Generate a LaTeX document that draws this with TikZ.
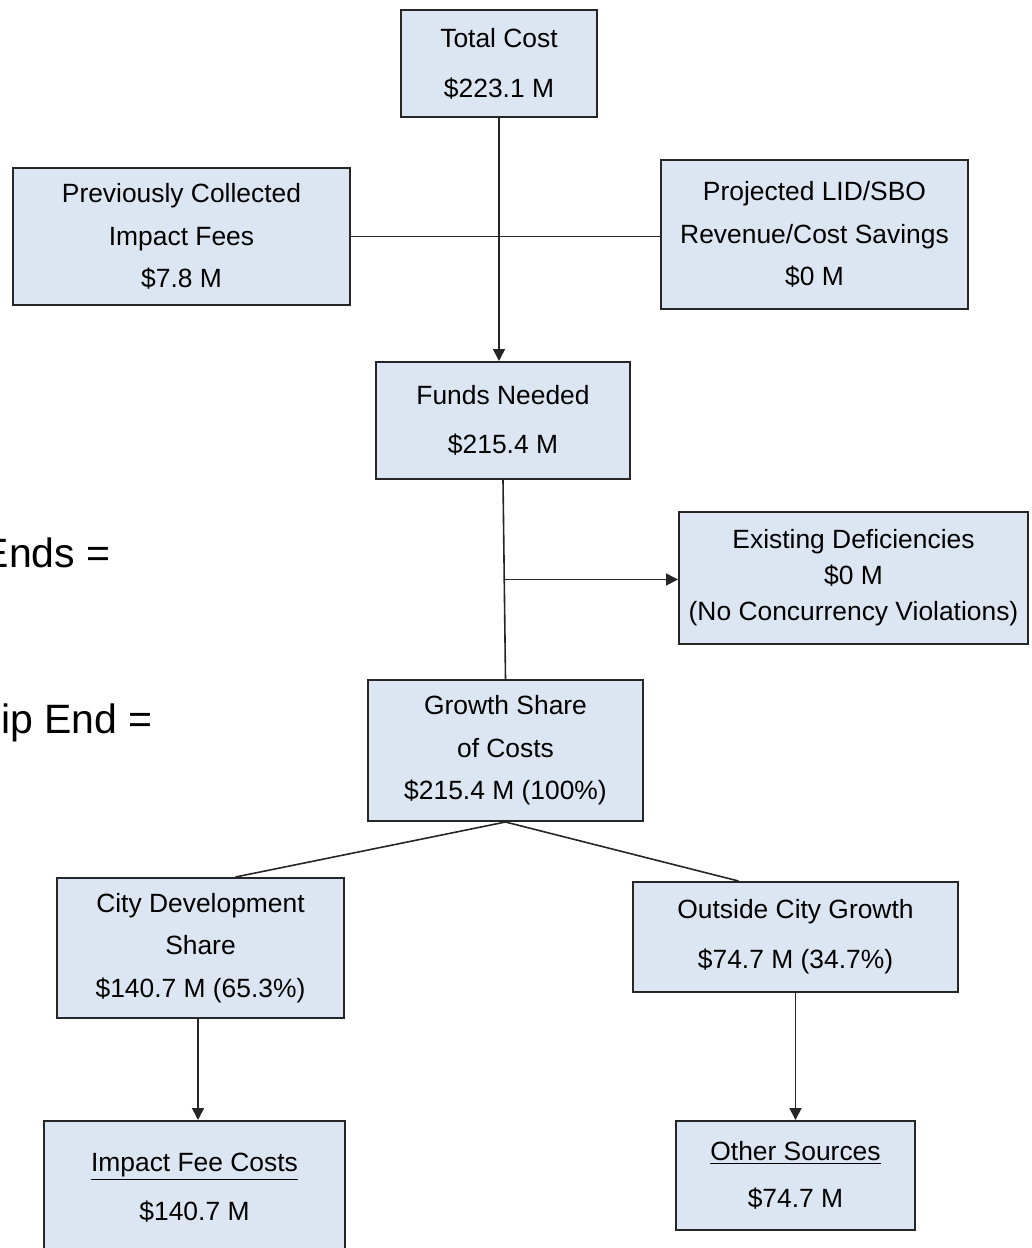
\documentclass[tikz,border=0pt]{standalone}
\usepackage{fontspec}
\usepackage{tikz}
\usetikzlibrary{arrows.meta,positioning,calc}
\setmainfont{Liberation Sans}
\definecolor{fundblue}{HTML}{DCE6F2}
\definecolor{fundedge}{HTML}{262626}

\begin{document}
\begin{tikzpicture}[x=0.5pt,y=-0.5pt,
  costbox/.style={draw=fundedge, fill=fundblue, line width=1pt, align=center,
    inner sep=0pt, font=\fontsize{13.2}{25}\selectfont},
  costtrio/.style={costbox, font=\fontsize{13.2}{21.2}\selectfont},
  link/.style={draw=black!85, line width=0.8pt},
  flow/.style={link, -{Triangle[length=6pt,width=6pt]}}]
  \useasboundingbox (0,0) rectangle (1032,1248);
  % boxes
  \node[costbox, minimum width=98pt, minimum height=53.5pt] (total) at (499,63.5) {Total Cost\\\$223.1 M};
  \node[costtrio, minimum width=168.5pt, minimum height=68.5pt] (prev) at (181.5,236.5) {Previously Collected\\Impact Fees\\\$7.8 M};
  \node[costtrio, minimum width=153.5pt, minimum height=74.5pt] (proj) at (814.5,234.5) {Projected LID/SBO\\Revenue/Cost Savings\\\$0 M};
  \node[costbox, minimum width=127pt, minimum height=58.5pt, font=\fontsize{13.2}{24.5}\selectfont] (funds) at (503,420.5) {Funds Needed\\\$215.4 M};
  \node[costtrio, minimum width=174.5pt, minimum height=66pt, font=\fontsize{13.2}{18}\selectfont] (exist) at (853.5,578) {Existing Deficiencies\\\$0 M\\(No Concurrency Violations)};
  \node[costtrio, minimum width=137.5pt, minimum height=70.5pt] (growth) at (505.5,750.5) {Growth Share\\of Costs\\\$215.4 M (100\%)};
  \node[costtrio, minimum width=143.5pt, minimum height=70pt] (city) at (200.5,948) {City Development\\Share\\\$140.7 M (65.3\%)};
  \node[costbox, minimum width=162.5pt, minimum height=55pt] (outside) at (795.5,937) {Outside City Growth\\\$74.7 M (34.7\%)};
  \node[costbox, minimum width=150.5pt, minimum height=66.5pt, font=\fontsize{13.2}{24.5}\selectfont] (impact) at (194.5,1187.5) {\underline{Impact Fee Costs}\\\$140.7 M};
  \node[costbox, minimum width=119.5pt, minimum height=54.5pt, font=\fontsize{13.2}{23.5}\selectfont] (other) at (795.5,1175.5) {\underline{Other Sources}\\\$74.7 M};
  % cut-off notes at the left edge
  \node[anchor=base east, inner sep=0pt, font=\fontsize{20.5}{24}\selectfont] (endsa) at (111,567) {Ends =};
  \node[anchor=base east, inner sep=0pt, font=\fontsize{20.5}{24}\selectfont] (endsb) at (153,733) {ip End =};
  % connectors
  \draw[flow] (total.south) -- (total.south |- funds.north);
  \draw[link] (prev.east) -- (prev.east -| proj.west);
  \draw[link] (funds.south) -- (growth.north);
  \coordinate (split) at ($(funds.south)!0.5!(growth.north)$);
  \draw[flow] (split) -- (split -| exist.west);
  \draw[link] (growth.south) -- ($(city.north)+(35,0)$);
  \draw[link] (growth.south) -- ($(outside.north)+(-57,0)$);
  \draw[flow] ([xshift=-1.25pt]city.south) -- ([xshift=-1.25pt]city.south |- impact.north);
  \draw[flow] (outside.south) -- (other.north);
\end{tikzpicture}
\end{document}
